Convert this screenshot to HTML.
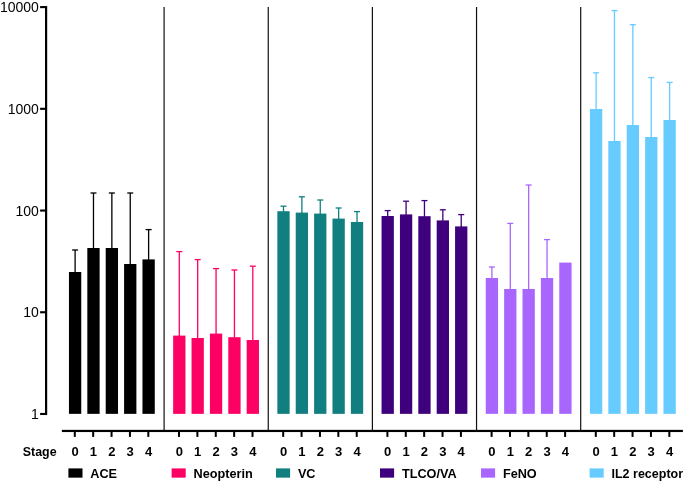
<!DOCTYPE html>
<html><head><meta charset="utf-8"><title>Chart</title>
<style>
html,body{margin:0;padding:0;background:#fff;}
body{width:685px;height:481px;overflow:hidden;}
svg{display:block;will-change:transform;}
text{font-family:"Liberation Sans",sans-serif;fill:#000;}
.b{font-weight:bold;}
.r{font-weight:normal;}
</style></head><body>
<svg width="685" height="481" viewBox="0 0 685 481">
<rect width="685" height="481" fill="#fff"/>
<rect x="163.50" y="7" width="1.2" height="423.5" fill="#111"/>
<rect x="267.65" y="7" width="1.2" height="423.5" fill="#111"/>
<rect x="371.80" y="7" width="1.2" height="423.5" fill="#111"/>
<rect x="475.95" y="7" width="1.2" height="423.5" fill="#111"/>
<rect x="580.10" y="7" width="1.2" height="423.5" fill="#111"/>
<rect x="74.45" y="250.00" width="1.3" height="22.50" fill="#000000"/>
<rect x="72.10" y="249.35" width="6" height="1.3" fill="#000000"/>
<rect x="68.95" y="272.00" width="12.3" height="141.85" fill="#000000"/>
<rect x="92.83" y="193.00" width="1.3" height="55.50" fill="#000000"/>
<rect x="90.48" y="192.35" width="6" height="1.3" fill="#000000"/>
<rect x="87.33" y="248.00" width="12.3" height="165.85" fill="#000000"/>
<rect x="111.21" y="193.00" width="1.3" height="55.50" fill="#000000"/>
<rect x="108.86" y="192.35" width="6" height="1.3" fill="#000000"/>
<rect x="105.71" y="248.00" width="12.3" height="165.85" fill="#000000"/>
<rect x="129.59" y="193.00" width="1.3" height="71.50" fill="#000000"/>
<rect x="127.24" y="192.35" width="6" height="1.3" fill="#000000"/>
<rect x="124.09" y="264.00" width="12.3" height="149.85" fill="#000000"/>
<rect x="147.97" y="229.60" width="1.3" height="30.30" fill="#000000"/>
<rect x="145.62" y="228.95" width="6" height="1.3" fill="#000000"/>
<rect x="142.47" y="259.40" width="12.3" height="154.45" fill="#000000"/>
<rect x="178.65" y="251.60" width="1.3" height="84.50" fill="#FC0064"/>
<rect x="176.30" y="250.95" width="6" height="1.3" fill="#FC0064"/>
<rect x="173.15" y="335.60" width="12.3" height="78.25" fill="#FC0064"/>
<rect x="197.03" y="259.60" width="1.3" height="78.90" fill="#FC0064"/>
<rect x="194.68" y="258.95" width="6" height="1.3" fill="#FC0064"/>
<rect x="191.53" y="338.00" width="12.3" height="75.85" fill="#FC0064"/>
<rect x="215.41" y="268.60" width="1.3" height="65.50" fill="#FC0064"/>
<rect x="213.06" y="267.95" width="6" height="1.3" fill="#FC0064"/>
<rect x="209.91" y="333.60" width="12.3" height="80.25" fill="#FC0064"/>
<rect x="233.79" y="270.00" width="1.3" height="67.70" fill="#FC0064"/>
<rect x="231.44" y="269.35" width="6" height="1.3" fill="#FC0064"/>
<rect x="228.29" y="337.20" width="12.3" height="76.65" fill="#FC0064"/>
<rect x="252.17" y="266.20" width="1.3" height="74.30" fill="#FC0064"/>
<rect x="249.82" y="265.55" width="6" height="1.3" fill="#FC0064"/>
<rect x="246.67" y="340.00" width="12.3" height="73.85" fill="#FC0064"/>
<rect x="282.85" y="206.20" width="1.3" height="5.50" fill="#117F80"/>
<rect x="280.50" y="205.55" width="6" height="1.3" fill="#117F80"/>
<rect x="277.35" y="211.20" width="12.3" height="202.65" fill="#117F80"/>
<rect x="301.23" y="196.80" width="1.3" height="16.30" fill="#117F80"/>
<rect x="298.88" y="196.15" width="6" height="1.3" fill="#117F80"/>
<rect x="295.73" y="212.60" width="12.3" height="201.25" fill="#117F80"/>
<rect x="319.61" y="200.00" width="1.3" height="14.10" fill="#117F80"/>
<rect x="317.26" y="199.35" width="6" height="1.3" fill="#117F80"/>
<rect x="314.11" y="213.60" width="12.3" height="200.25" fill="#117F80"/>
<rect x="337.99" y="208.00" width="1.3" height="11.10" fill="#117F80"/>
<rect x="335.64" y="207.35" width="6" height="1.3" fill="#117F80"/>
<rect x="332.49" y="218.60" width="12.3" height="195.25" fill="#117F80"/>
<rect x="356.37" y="211.60" width="1.3" height="10.90" fill="#117F80"/>
<rect x="354.02" y="210.95" width="6" height="1.3" fill="#117F80"/>
<rect x="350.87" y="222.00" width="12.3" height="191.85" fill="#117F80"/>
<rect x="387.05" y="210.60" width="1.3" height="5.90" fill="#3F007D"/>
<rect x="384.70" y="209.95" width="6" height="1.3" fill="#3F007D"/>
<rect x="381.55" y="216.00" width="12.3" height="197.85" fill="#3F007D"/>
<rect x="405.43" y="201.20" width="1.3" height="13.70" fill="#3F007D"/>
<rect x="403.08" y="200.55" width="6" height="1.3" fill="#3F007D"/>
<rect x="399.93" y="214.40" width="12.3" height="199.45" fill="#3F007D"/>
<rect x="423.81" y="200.60" width="1.3" height="16.10" fill="#3F007D"/>
<rect x="421.46" y="199.95" width="6" height="1.3" fill="#3F007D"/>
<rect x="418.31" y="216.20" width="12.3" height="197.65" fill="#3F007D"/>
<rect x="442.19" y="209.80" width="1.3" height="11.10" fill="#3F007D"/>
<rect x="439.84" y="209.15" width="6" height="1.3" fill="#3F007D"/>
<rect x="436.69" y="220.40" width="12.3" height="193.45" fill="#3F007D"/>
<rect x="460.57" y="214.60" width="1.3" height="12.30" fill="#3F007D"/>
<rect x="458.22" y="213.95" width="6" height="1.3" fill="#3F007D"/>
<rect x="455.07" y="226.40" width="12.3" height="187.45" fill="#3F007D"/>
<rect x="491.25" y="267.00" width="1.3" height="11.50" fill="#A966FF"/>
<rect x="488.90" y="266.35" width="6" height="1.3" fill="#A966FF"/>
<rect x="485.75" y="278.00" width="12.3" height="135.85" fill="#A966FF"/>
<rect x="509.63" y="223.40" width="1.3" height="66.10" fill="#A966FF"/>
<rect x="507.28" y="222.75" width="6" height="1.3" fill="#A966FF"/>
<rect x="504.13" y="289.00" width="12.3" height="124.85" fill="#A966FF"/>
<rect x="528.01" y="185.00" width="1.3" height="104.50" fill="#A966FF"/>
<rect x="525.66" y="184.35" width="6" height="1.3" fill="#A966FF"/>
<rect x="522.51" y="289.00" width="12.3" height="124.85" fill="#A966FF"/>
<rect x="546.39" y="239.60" width="1.3" height="38.90" fill="#A966FF"/>
<rect x="544.04" y="238.95" width="6" height="1.3" fill="#A966FF"/>
<rect x="540.89" y="278.00" width="12.3" height="135.85" fill="#A966FF"/>
<rect x="559.27" y="262.60" width="12.3" height="151.25" fill="#A966FF"/>
<rect x="595.45" y="72.80" width="1.3" height="36.70" fill="#66CCFF"/>
<rect x="593.10" y="72.15" width="6" height="1.3" fill="#66CCFF"/>
<rect x="589.95" y="109.00" width="12.3" height="304.85" fill="#66CCFF"/>
<rect x="613.83" y="10.60" width="1.3" height="130.90" fill="#66CCFF"/>
<rect x="611.48" y="9.95" width="6" height="1.3" fill="#66CCFF"/>
<rect x="608.33" y="141.00" width="12.3" height="272.85" fill="#66CCFF"/>
<rect x="632.21" y="24.70" width="1.3" height="100.80" fill="#66CCFF"/>
<rect x="629.86" y="24.05" width="6" height="1.3" fill="#66CCFF"/>
<rect x="626.71" y="125.00" width="12.3" height="288.85" fill="#66CCFF"/>
<rect x="650.59" y="77.60" width="1.3" height="59.90" fill="#66CCFF"/>
<rect x="648.24" y="76.95" width="6" height="1.3" fill="#66CCFF"/>
<rect x="645.09" y="137.00" width="12.3" height="276.85" fill="#66CCFF"/>
<rect x="668.97" y="82.40" width="1.3" height="38.10" fill="#66CCFF"/>
<rect x="666.62" y="81.75" width="6" height="1.3" fill="#66CCFF"/>
<rect x="663.47" y="120.00" width="12.3" height="293.85" fill="#66CCFF"/>
<rect x="45" y="6.05" width="2.2" height="409.0" fill="#000"/>
<rect x="40.1" y="6.05" width="5.5" height="2.1" fill="#000"/>
<text x="38.9" y="12" text-anchor="end" font-size="14" class="r">10000</text>
<rect x="40.1" y="107.77" width="5.5" height="2.1" fill="#000"/>
<text x="38.9" y="114" text-anchor="end" font-size="14" class="r">1000</text>
<rect x="40.1" y="209.49" width="5.5" height="2.1" fill="#000"/>
<text x="38.9" y="216" text-anchor="end" font-size="14" class="r">100</text>
<rect x="40.1" y="311.21" width="5.5" height="2.1" fill="#000"/>
<text x="38.9" y="317" text-anchor="end" font-size="14" class="r">10</text>
<rect x="40.1" y="412.93" width="5.5" height="2.1" fill="#000"/>
<text x="38.9" y="419" text-anchor="end" font-size="14" class="r">1</text>
<rect x="61.9" y="429.85" width="621" height="2.2" fill="#000"/>
<rect x="73.80" y="431" width="2.0" height="5.9" fill="#000"/>
<text x="75.10" y="456.4" text-anchor="middle" font-size="13" class="b">0</text>
<rect x="92.18" y="431" width="2.0" height="5.9" fill="#000"/>
<text x="93.48" y="456.4" text-anchor="middle" font-size="13" class="b">1</text>
<rect x="110.56" y="431" width="2.0" height="5.9" fill="#000"/>
<text x="111.86" y="456.4" text-anchor="middle" font-size="13" class="b">2</text>
<rect x="128.94" y="431" width="2.0" height="5.9" fill="#000"/>
<text x="130.24" y="456.4" text-anchor="middle" font-size="13" class="b">3</text>
<rect x="147.32" y="431" width="2.0" height="5.9" fill="#000"/>
<text x="148.62" y="456.4" text-anchor="middle" font-size="13" class="b">4</text>
<rect x="178.00" y="431" width="2.0" height="5.9" fill="#000"/>
<text x="179.30" y="456.4" text-anchor="middle" font-size="13" class="b">0</text>
<rect x="196.38" y="431" width="2.0" height="5.9" fill="#000"/>
<text x="197.68" y="456.4" text-anchor="middle" font-size="13" class="b">1</text>
<rect x="214.76" y="431" width="2.0" height="5.9" fill="#000"/>
<text x="216.06" y="456.4" text-anchor="middle" font-size="13" class="b">2</text>
<rect x="233.14" y="431" width="2.0" height="5.9" fill="#000"/>
<text x="234.44" y="456.4" text-anchor="middle" font-size="13" class="b">3</text>
<rect x="251.52" y="431" width="2.0" height="5.9" fill="#000"/>
<text x="252.82" y="456.4" text-anchor="middle" font-size="13" class="b">4</text>
<rect x="282.20" y="431" width="2.0" height="5.9" fill="#000"/>
<text x="283.50" y="456.4" text-anchor="middle" font-size="13" class="b">0</text>
<rect x="300.58" y="431" width="2.0" height="5.9" fill="#000"/>
<text x="301.88" y="456.4" text-anchor="middle" font-size="13" class="b">1</text>
<rect x="318.96" y="431" width="2.0" height="5.9" fill="#000"/>
<text x="320.26" y="456.4" text-anchor="middle" font-size="13" class="b">2</text>
<rect x="337.34" y="431" width="2.0" height="5.9" fill="#000"/>
<text x="338.64" y="456.4" text-anchor="middle" font-size="13" class="b">3</text>
<rect x="355.72" y="431" width="2.0" height="5.9" fill="#000"/>
<text x="357.02" y="456.4" text-anchor="middle" font-size="13" class="b">4</text>
<rect x="386.40" y="431" width="2.0" height="5.9" fill="#000"/>
<text x="387.70" y="456.4" text-anchor="middle" font-size="13" class="b">0</text>
<rect x="404.78" y="431" width="2.0" height="5.9" fill="#000"/>
<text x="406.08" y="456.4" text-anchor="middle" font-size="13" class="b">1</text>
<rect x="423.16" y="431" width="2.0" height="5.9" fill="#000"/>
<text x="424.46" y="456.4" text-anchor="middle" font-size="13" class="b">2</text>
<rect x="441.54" y="431" width="2.0" height="5.9" fill="#000"/>
<text x="442.84" y="456.4" text-anchor="middle" font-size="13" class="b">3</text>
<rect x="459.92" y="431" width="2.0" height="5.9" fill="#000"/>
<text x="461.22" y="456.4" text-anchor="middle" font-size="13" class="b">4</text>
<rect x="490.60" y="431" width="2.0" height="5.9" fill="#000"/>
<text x="491.90" y="456.4" text-anchor="middle" font-size="13" class="b">0</text>
<rect x="508.98" y="431" width="2.0" height="5.9" fill="#000"/>
<text x="510.28" y="456.4" text-anchor="middle" font-size="13" class="b">1</text>
<rect x="527.36" y="431" width="2.0" height="5.9" fill="#000"/>
<text x="528.66" y="456.4" text-anchor="middle" font-size="13" class="b">2</text>
<rect x="545.74" y="431" width="2.0" height="5.9" fill="#000"/>
<text x="547.04" y="456.4" text-anchor="middle" font-size="13" class="b">3</text>
<rect x="564.12" y="431" width="2.0" height="5.9" fill="#000"/>
<text x="565.42" y="456.4" text-anchor="middle" font-size="13" class="b">4</text>
<rect x="594.80" y="431" width="2.0" height="5.9" fill="#000"/>
<text x="596.10" y="456.4" text-anchor="middle" font-size="13" class="b">0</text>
<rect x="613.18" y="431" width="2.0" height="5.9" fill="#000"/>
<text x="614.48" y="456.4" text-anchor="middle" font-size="13" class="b">1</text>
<rect x="631.56" y="431" width="2.0" height="5.9" fill="#000"/>
<text x="632.86" y="456.4" text-anchor="middle" font-size="13" class="b">2</text>
<rect x="649.94" y="431" width="2.0" height="5.9" fill="#000"/>
<text x="651.24" y="456.4" text-anchor="middle" font-size="13" class="b">3</text>
<rect x="668.32" y="431" width="2.0" height="5.9" fill="#000"/>
<text x="669.62" y="456.4" text-anchor="middle" font-size="13" class="b">4</text>
<text x="22.8" y="456.3" font-size="12.9" textLength="33.8" lengthAdjust="spacingAndGlyphs" class="b">Stage</text>
<rect x="68.4" y="468.4" width="14.1" height="9.25" fill="#000000"/>
<text x="90.30" y="477.5" font-size="12.7" class="b">ACE</text>
<rect x="171.6" y="468.4" width="14.1" height="9.25" fill="#FC0064"/>
<text x="193.50" y="477.5" font-size="12.7" class="b">Neopterin</text>
<rect x="276" y="468.4" width="14.1" height="9.25" fill="#117F80"/>
<text x="297.90" y="477.5" font-size="12.7" class="b">VC</text>
<rect x="380" y="468.4" width="14.1" height="9.25" fill="#3F007D"/>
<text x="401.90" y="477.5" font-size="12.7" class="b">TLCO/VA</text>
<rect x="481" y="468.4" width="14.1" height="9.25" fill="#A966FF"/>
<text x="502.90" y="477.5" font-size="12.7" class="b">FeNO</text>
<rect x="589.6" y="468.4" width="14.1" height="9.25" fill="#66CCFF"/>
<text x="611.50" y="477.5" font-size="12.7" textLength="71.6" lengthAdjust="spacingAndGlyphs" class="b">IL2 receptor</text>
</svg>
</body></html>
